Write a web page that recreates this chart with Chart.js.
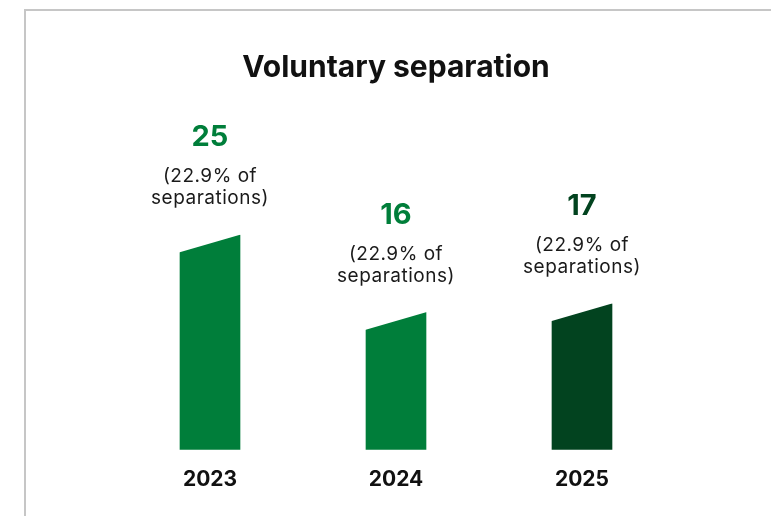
<!DOCTYPE html>
<html>
<head>
<meta charset="utf-8">
<script src="https://cdn.jsdelivr.net/npm/chart.js@4.4.1/dist/chart.umd.min.js"></script>
<style>
  html, body { margin: 0; padding: 0; background: #fff; }
  #wrap { position: relative; width: 771px; height: 516px; overflow: hidden; }
  #frame {
    position: absolute; left: 24px; top: 9px; width: 900px; height: 600px;
    border-top: 2px solid #c6c6c6; border-left: 2px solid #c6c6c6;
  }
  #barChart { position: absolute; left: 0; top: 0; }
</style>
</head>
<body>
<div id="wrap">
  <div id="frame"></div>
  <canvas id="barChart" width="771" height="516"></canvas>
</div>
<script>
const years = ["2023", "2024", "2025"];
const separations = [25, 16, 17];
const shareLines = [
    ["(22.9% of", "separations)"],
    ["(22.9% of", "separations)"],
    ["(22.9% of", "separations)"]
];
const barColors = ["#007e3a", "#007e3a", "#02431f"];
const valueColors = ["#007e3a", "#007e3a", "#02431f"];

const FONT = "Inter, 'DejaVu Sans', sans-serif";
const SLANT = 18;

// cut the top-left corner of each bar so the top slopes upward to the right,
// then write the count and share above it
const slantedLabels = {
    id: 'slantedLabels',
    afterDatasetsDraw(chart) {
        const ctx = chart.ctx;
        const meta = chart.getDatasetMeta(0);
        meta.data.forEach((bar, i) => {
            const left = bar.x - bar.width / 2;
            const right = bar.x + bar.width / 2;
            const top = bar.y;

            ctx.save();
            ctx.fillStyle = '#ffffff';
            ctx.beginPath();
            ctx.moveTo(left - 2, top - 3);
            ctx.lineTo(right + 2, top - 3);
            ctx.lineTo(right + 2, top);
            ctx.lineTo(right, top);
            ctx.lineTo(left - 2, top + SLANT);
            ctx.closePath();
            ctx.fill();

            ctx.textAlign = 'center';
            ctx.textBaseline = 'middle';
            ctx.fillStyle = valueColors[i];
            ctx.font = "bold 29px " + FONT;
            ctx.fillText(String(separations[i]), bar.x, top - 97);

            ctx.fillStyle = '#1a1a1a';
            ctx.font = "19px " + FONT;
            ctx.letterSpacing = '0.5px';
            ctx.fillText(shareLines[i][0], bar.x, top - 58);
            ctx.fillText(shareLines[i][1], bar.x, top - 36);
            ctx.restore();
        });
    }
};

new Chart(document.getElementById('barChart'), {
    type: 'bar',
    data: {
        labels: years,
        datasets: [{
            data: separations,
            backgroundColor: barColors,
            barThickness: 60,
            borderWidth: 0
        }]
    },
    options: {
        responsive: false,
        animation: false,
        layout: { padding: { left: 117, right: 96, top: 0, bottom: 15 } },
        plugins: {
            legend: { display: false },
            tooltip: { enabled: false },
            title: {
                display: true,
                text: 'Voluntary separation',
                color: '#111111',
                font: { family: FONT, size: 30, weight: 'bold' },
                padding: { top: 50, bottom: 18 }
            }
        },
        scales: {
            x: {
                grid: { display: false },
                border: { display: false },
                ticks: {
                    color: '#111111',
                    padding: 9,
                    font: { family: FONT, size: 21, weight: 'bold' }
                }
            },
            y: {
                display: false,
                min: 0,
                max: 40.2
            }
        }
    },
    plugins: [slantedLabels]
});
</script>
</body>
</html>
